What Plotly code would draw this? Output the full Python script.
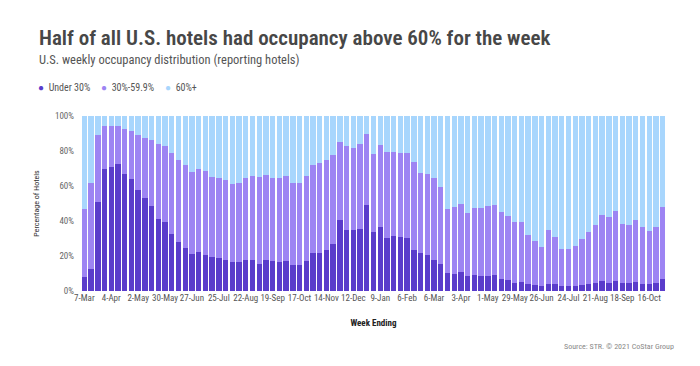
import pandas as pd
import plotly.graph_objects as go

# Week-ending dates (categories)
weeks = [d.strftime("%Y-%m-%d") for d in pd.date_range("2020-03-07", periods=87, freq="7D")]

tick_labels = ["7-Mar", "4-Apr", "2-May", "30-May", "27-Jun", "25-Jul", "22-Aug", "19-Sep",
               "17-Oct", "14-Nov", "12-Dec", "9-Jan", "6-Feb", "6-Mar", "3-Apr", "1-May",
               "29-May", "26-Jun", "24-Jul", "21-Aug", "18-Sep", "16-Oct"]

# Share of hotels with occupancy under 30%
under_30 = [8.0, 12.5, 50.6, 69.5, 70.9, 72.7, 66.8, 63.8, 57.6, 53.0, 48.4, 40.9, 39.3, 32.7,
            28.0, 24.5, 21.3, 22.3, 20.7, 19.4, 18.7, 17.6, 16.7, 16.5, 18.0, 18.0, 15.7, 18.0,
            17.0, 16.8, 17.2, 14.7, 14.9, 17.2, 21.8, 21.8, 23.7, 27.1, 40.5, 35.1, 34.6, 35.7,
            49.0, 33.6, 36.6, 30.3, 31.7, 30.8, 30.4, 23.2, 21.7, 20.5, 18.0, 15.4, 10.2, 10.0,
            10.6, 8.6, 9.0, 8.6, 8.4, 9.0, 7.1, 6.1, 4.8, 4.9, 4.0, 3.7, 2.9, 4.2, 3.8, 2.7,
            2.7, 2.7, 3.4, 4.0, 4.8, 5.9, 4.6, 5.6, 4.6, 4.6, 5.0, 3.8, 3.8, 4.6, 6.9]

# Share of hotels with occupancy 30%-59.9%
mid_30_60 = [38.7, 49.5, 38.6, 24.9, 23.6, 21.8, 25.7, 27.4, 31.5, 34.7, 38.1, 43.2, 43.6, 45.9,
             47.1, 47.5, 46.7, 47.7, 47.9, 45.5, 45.7, 45.8, 44.6, 45.0, 46.3, 47.7, 49.5, 48.3,
             47.7, 47.5, 48.5, 46.9, 46.9, 48.5, 50.0, 51.1, 51.1, 50.4, 44.6, 47.7, 47.1, 48.1,
             41.0, 44.6, 46.8, 49.3, 48.0, 48.3, 48.3, 50.7, 45.8, 46.2, 46.3, 43.8, 36.4, 38.1,
             38.9, 36.1, 38.7, 39.1, 40.1, 40.0, 37.8, 36.7, 34.5, 34.4, 27.9, 24.7, 22.3, 30.9,
             27.1, 21.3, 21.3, 23.2, 26.6, 29.6, 32.8, 37.4, 37.8, 40.2, 33.6, 33.0, 35.5, 32.8,
             30.5, 32.0, 41.2]

# Share of hotels with occupancy 60%+
over_60 = [round(100 - a - b, 1) for a, b in zip(under_30, mid_30_60)]

series_names = ["Under 30%", "30%-59.9%", "60%+"]
colors = ["#5a3ccb", "#9d84f3", "#a8d6fd"]

FONT = "Noto Sans ExtraCondensed, Roboto Condensed, Liberation Sans Narrow, Roboto, sans-serif"

fig = go.Figure()
for name, vals, col in zip(series_names, [under_30, mid_30_60, over_60], colors):
    fig.add_trace(go.Bar(x=weeks, y=vals, name=name, marker=dict(color=col, line=dict(width=0)),
                         showlegend=False))

# The page body has an 8px default margin, so the figure is drawn 8px smaller and
# the plot area lands at x 81..666, y 116..291 of the window.
PX_Y = 175.0
PX_X = 585.0


def px_x(px):
    return (px - 81) / PX_X


def px_y(px):
    return (291 - px) / PX_Y


annotations = [
    dict(text="Half of all U.S. hotels had occupancy above 60% for the week",
         x=px_x(37), y=px_y(38), font=dict(size=21, color="#474747", family=FONT, weight=600)),
    dict(text="U.S. weekly occupancy distribution (reporting hotels)",
         x=px_x(37), y=px_y(60), font=dict(size=12.5, color="#555555", family=FONT)),
    dict(text="Source: STR. © 2021 CoStar Group", x=px_x(676), y=px_y(346), xanchor="right",
         font=dict(size=8, color="#888888", family=FONT)),
]
# legend built from series names/colours
legend_x = [36, 99, 163]
for name, col, lx in zip(series_names, colors, legend_x):
    annotations.append(dict(text=f"<span style='color:{col}'>●</span>  {name}",
                            x=px_x(lx), y=px_y(87), font=dict(size=10, color="#555555", family=FONT)))

for a in annotations:
    a.update(xref="paper", yref="paper", showarrow=False, yanchor="middle")
    a.setdefault("xanchor", "left")

fig.update_layout(
    width=692, height=358,
    barmode="stack", bargap=0.2,
    margin=dict(l=73, r=34, t=108, b=75),
    plot_bgcolor="white", paper_bgcolor="white",
    font=dict(family=FONT, color="#555555", size=9),
    showlegend=False,
    xaxis=dict(type="category", tickmode="array", tickvals=weeks[::4], ticktext=tick_labels,
               tickangle=0, showgrid=False, showline=False, zeroline=False, ticks="",
               automargin=False,
               tickfont=dict(size=9, color="#555555"),
               title=dict(text="<b>Week Ending</b>", font=dict(size=9, color="#222222"), standoff=17)),
    yaxis=dict(range=[0, 100], tickvals=[0, 20, 40, 60, 80, 100],
               ticktext=["0%", "20%", "40%", "60%", "80%", "100%"],
               showgrid=False, showline=False, zeroline=False, ticks="", automargin=False,
               tickfont=dict(size=9, color="#666666"), ticklabelstandoff=6,
               title=dict(text="Percentage of Hotels", font=dict(size=8, color="#333333"), standoff=14)),
    annotations=annotations,
)

fig.write_html("out.html")
